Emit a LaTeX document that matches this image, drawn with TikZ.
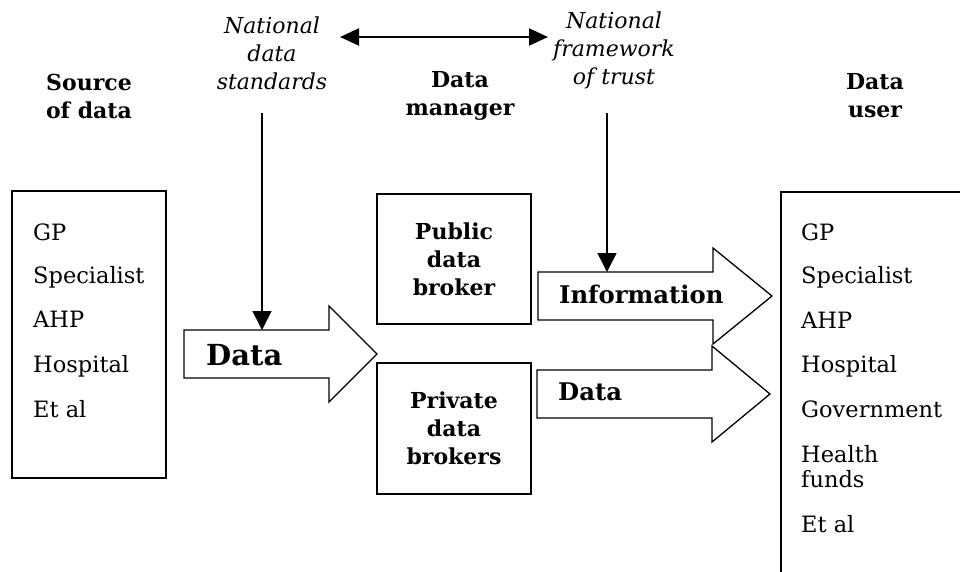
\documentclass[tikz,border=0pt]{standalone}
\usepackage{fontspec}
\setmainfont{DejaVu Serif}
\usetikzlibrary{arrows.meta}
\tikzset{
  boxline/.style   = {draw,line width=1.5pt,inner sep=0pt},
  arrline/.style   = {line width=1.3pt,line join=miter},
  downarr/.style   = {-{Triangle[length=19pt,width=19pt]},line width=1.5pt},
  twoway/.style    = {{Triangle[length=19pt,width=17pt]}-{Triangle[length=19pt,width=17pt]},line width=2pt},
  headtext/.style  = {font=\fontsize{22}{28}\selectfont\bfseries,align=center,inner sep=0pt},
  normtext/.style  = {font=\fontsize{22}{28}\selectfont\itshape,align=center,inner sep=0pt},
  listitem/.style  = {font=\fontsize{22.5}{25}\selectfont,anchor=base west,inner sep=0pt},
  flowtext/.style  = {font=\fontsize{24.3}{28}\selectfont\bfseries,anchor=west,inner sep=0pt}
}
% block arrow: name, tail x, middle y, head x, tip x
\newcommand{\blockarr}[5]{%
  \draw[arrline] (#2,#3-24) -- (#4,#3-24) -- (#4,#3-48) -- (#5,#3)
    -- (#4,#3+48) -- (#4,#3+24) -- (#2,#3+24) -- cycle;
  \coordinate (#1-top) at (#2,#3-24);
}

\begin{document}
\begin{tikzpicture}[x=1pt,y=-1pt]
  \useasboundingbox (0,0) rectangle (960,571);
  \clip (0,0) rectangle (960,571);

  % column heads
  \node[headtext] (srchead) at (89,96)  {Source\\of data};
  \node[headtext] (mgrhead) at (460,96) {Data\\manager};
  \node[headtext] (usrhead) at (875,96) {Data\\user};
  \node[normtext] (std)     at (272,53) {National\\data\\standards};
  \node[normtext] (trust)   at (614,50) {National\\framework\\of trust};

  \coordinate (stdend)   at (340,37);
  \coordinate (trustend) at (548,37);
  \draw[twoway] (stdend) -- (trustend);

  % source box
  \node[boxline,minimum width=154,minimum height=287] (srcbox) at (89,334.5) {};
  \foreach \item/\y in {GP/240,Specialist/283,AHP/327,Hospital/372,Et al/417}
    \node[listitem] (src-\y) at (33,\y) {\item};

  % brokers
  \node[boxline,headtext,minimum width=154,minimum height=130] (public)  at (454,259)   {Public\\data\\broker};
  \node[boxline,headtext,minimum width=154,minimum height=131] (private) at (454,428.5) {Private\\data\\brokers};

  % user box, runs off the page
  \node[boxline,anchor=north west,minimum width=230,minimum height=420] (usrbox) at (780,191) {};
  \foreach \item/\y in {GP/240,Specialist/283,AHP/328,Hospital/372,Government/417,Health/462,funds/487,Et al/532}
    \node[listitem] (usr-\y) at (801,\y) {\item};

  % flows
  \blockarr{rawdata}{184}{354}{329}{377}
  \blockarr{info}{538}{296}{713}{772}
  \blockarr{outdata}{537}{394}{712}{770}
  \node[flowtext,font=\fontsize{29}{30}\selectfont\bfseries] (rawtxt) at (206,355) {Data};
  \node[flowtext] (infotxt) at (559,294) {Information};
  \node[flowtext] (outtxt)  at (558,392) {Data};

  \coordinate (stdfoot)   at (262,113);
  \coordinate (trustfoot) at (607,113);
  \draw[downarr] (stdfoot)   -- (stdfoot |- rawdata-top);
  \draw[downarr] (trustfoot) -- (trustfoot |- info-top);
\end{tikzpicture}
\end{document}
